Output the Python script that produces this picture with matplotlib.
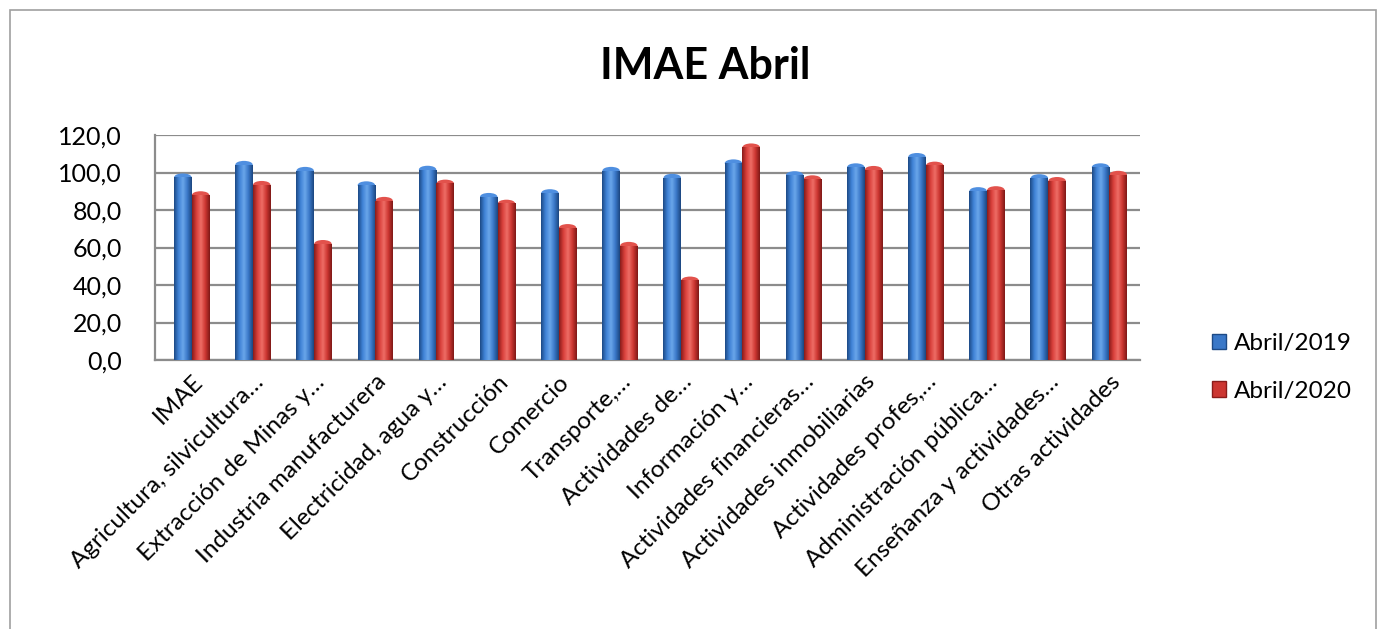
import matplotlib
matplotlib.use("Agg")
import matplotlib.pyplot as plt
import numpy as np
from matplotlib.patches import Rectangle, Ellipse
from matplotlib.colors import LinearSegmentedColormap

categories = [
    "IMAE", "Agricultura, silvicultura…", "Extracción de Minas y…",
    "Industria manufacturera", "Electricidad, agua y…", "Construcción",
    "Comercio", "Transporte,…", "Actividades de…", "Información y…",
    "Actividades financieras…", "Actividades inmobiliarias",
    "Actividades profes,…", "Administración pública…",
    "Enseñanza y actividades…", "Otras actividades",
]
abril_2019 = [99.5, 106.2, 103.0, 95.3, 103.6, 89.1, 91.1, 103.0, 99.3,
              107.0, 100.7, 104.9, 110.4, 92.2, 99.1, 104.9]
abril_2020 = [90.0, 95.5, 64.0, 87.0, 96.2, 85.5, 72.5, 63.0, 44.5,
              115.5, 98.5, 103.5, 105.8, 92.7, 97.6, 100.9]
series_names = ["Abril/2019", "Abril/2020"]
yticks = [0, 20, 40, 60, 80, 100, 120]

plt.rcParams['font.family'] = ['Lato', 'DejaVu Sans']

fig = plt.figure(figsize=(13.86, 6.29), dpi=100)
W, H = 1386, 629
ax = fig.add_axes([155 / W, 1 - 360 / H, (1140 - 155) / W, (360 - 135) / H])

x = np.arange(len(categories))
bw = 0.29
cap = 2.0
blue_cmap = LinearSegmentedColormap.from_list(
    "b", ["#1d4a86", "#3f82d6", "#6aa6ea", "#3a78c8", "#1c467f"])
red_cmap = LinearSegmentedColormap.from_list(
    "r", ["#8a1c1a", "#d9403b", "#ee6d66", "#cc3631", "#7f1917"])
cap_colors = ["#4f8fe0", "#e2524c"]

grad = np.linspace(0, 1, 64).reshape(1, -1)
b1 = ax.bar(x - bw / 2, np.array(abril_2019) - cap, bw, color="#3a78c8",
            zorder=3, linewidth=0)
b2 = ax.bar(x + bw / 2, np.array(abril_2020) - cap, bw, color="#cc3631",
            zorder=3, linewidth=0)
for bars, cmap, cc in ((b1, blue_cmap, cap_colors[0]),
                       (b2, red_cmap, cap_colors[1])):
    for p in bars:
        x0 = p.get_x(); w = p.get_width(); h = p.get_height()
        ax.add_patch(Ellipse((x0 + w / 2, h), w * 0.98, 2 * cap,
                             facecolor=cc, edgecolor="none", zorder=3))
        im = ax.imshow(grad, cmap=cmap, aspect="auto",
                       extent=[x0, x0 + w, 0, h], zorder=4)
        im.set_clip_path(p)

ax.set_xlim(-0.6, len(categories) - 0.5)
ax.set_ylim(0, 120)
ax.set_yticks(yticks)
ax.set_yticklabels([f"{v:.1f}".replace(".", ",") for v in yticks], fontsize=18)
ax.set_xticks(x)
ax.set_xticklabels(categories, rotation=45, ha="right", rotation_mode="anchor",
                   fontsize=17.5)
ax.tick_params(axis="x", length=0, pad=8)
ax.tick_params(axis="y", length=0, pad=24)
ax.grid(axis="y", color="#8c8c8c", linewidth=1.6, zorder=0)
ax.set_axisbelow(True)
for s in ["top", "right"]:
    ax.spines[s].set_visible(False)
for s in ["left", "bottom"]:
    ax.spines[s].set_color("#8c8c8c")
    ax.spines[s].set_linewidth(1.6)

fig.text(705 / W, 1 - 66 / H, "IMAE Abril", ha="center", va="center",
         fontsize=31, fontweight="bold")

handles = [Rectangle((0, 0), 1, 1, facecolor="#3a78c8", edgecolor="#1d4a86"),
           Rectangle((0, 0), 1, 1, facecolor="#cc3631", edgecolor="#8a1c1a")]
fig.legend(handles, series_names, loc="upper left",
           bbox_to_anchor=(1190 / W, 1 - 311 / H), frameon=False,
           fontsize=17.5, handlelength=0.6, handleheight=0.6,
           handletextpad=0.3, labelspacing=1.1)

fig.patches.append(Rectangle((10 / W, -0.05), 1366 / W, 1 - 10 / H + 0.05,
                             transform=fig.transFigure, fill=False,
                             edgecolor="#a0a0a0", linewidth=1.2))

fig.savefig("out.png", dpi=100)
